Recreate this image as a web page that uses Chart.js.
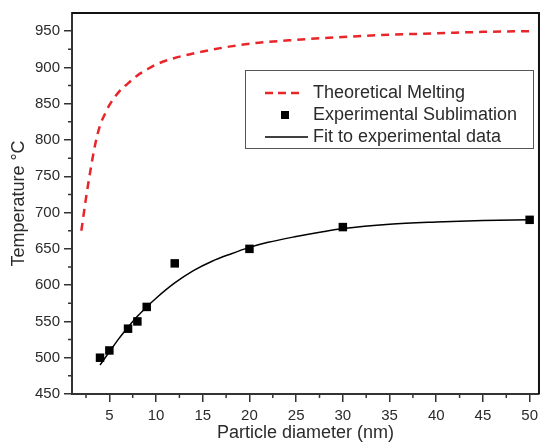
<!DOCTYPE html>
<html lang="en">
<head>
  <meta charset="UTF-8" />
  <title>Temperature vs particle diameter</title>
  <style>
    body {
      margin: 0;
      background: #fff;
    }
    #chart {
      display: block;
    }
  </style>
</head>
<body>
  <canvas id="chart" width="543" height="444"></canvas>

  <script src="https://cdn.jsdelivr.net/npm/chart.js"></script>
  <script>
    // data
    const meltX = [2, 2.5, 3, 3.5, 4, 4.5, 5, 6, 7, 8, 9, 10, 12, 15, 18, 21, 25, 30, 35, 40, 45, 50];
    const meltY = [675, 720, 760, 795, 820, 835, 848, 866, 878, 889, 897, 904, 913, 922, 929, 934, 938, 942, 945, 947, 949, 950];

    const expX = [4, 5, 7, 8, 9, 12, 20, 30, 50];
    const expY = [500, 510, 540, 550, 570, 630, 650, 680, 690];

    const fitX = [4, 5, 6, 7, 8, 9, 10, 12, 14, 16, 18, 20, 22, 25, 28, 30, 35, 40, 45, 50];
    const fitY = [490, 508, 526, 542, 557, 570, 582, 603, 620, 633, 643, 652, 659, 667, 674, 678, 684, 687, 689, 690];

    const xTicks = [5, 10, 15, 20, 25, 30, 35, 40, 45, 50];
    const xMinor = [2.5, 7.5, 12.5, 17.5, 22.5, 27.5, 32.5, 37.5, 42.5, 47.5];
    const yTicks = [450, 500, 550, 600, 650, 700, 750, 800, 850, 900, 950];
    const yMinor = [475, 525, 575, 625, 675, 725, 775, 825, 875, 925];

    const legendItems = ['Theoretical Melting', 'Experimental Sublimation', 'Fit to experimental data'];

    const pts = (xs, ys) => xs.map((x, i) => ({ x: x, y: ys[i] }));

    const FONT = '"Liberation Sans", Arial, sans-serif';
    const TEXT = '#2b2b2b';

    // minor ticks, frame on top/right, and the boxed legend
    const extras = {
      id: 'extras',
      afterDraw(chart) {
        const ctx = chart.ctx;
        const a = chart.chartArea;
        const sx = chart.scales.x, sy = chart.scales.y;
        ctx.save();
        ctx.strokeStyle = '#333';
        ctx.lineWidth = 1.5;
        ctx.beginPath();
        xMinor.forEach(v => {
          const px = sx.getPixelForValue(v);
          ctx.moveTo(px, a.bottom);
          ctx.lineTo(px, a.bottom + 4);
        });
        yMinor.forEach(v => {
          const py = sy.getPixelForValue(v);
          ctx.moveTo(a.left, py);
          ctx.lineTo(a.left - 4, py);
        });
        ctx.stroke();

        ctx.strokeStyle = '#111';
        ctx.lineWidth = 2;
        ctx.beginPath();
        ctx.moveTo(a.left, a.top);
        ctx.lineTo(a.right, a.top);
        ctx.lineTo(a.right, a.bottom);
        ctx.stroke();

        // legend
        const bx = 245, by = 70, bw = 288, bh = 78;
        ctx.fillStyle = '#fff';
        ctx.fillRect(bx, by, bw, bh);
        ctx.strokeStyle = '#555';
        ctx.lineWidth = 1;
        ctx.strokeRect(bx + 0.5, by + 0.5, bw, bh);

        const rows = [93, 115, 137];
        ctx.font = '18px ' + FONT;
        ctx.fillStyle = TEXT;
        ctx.textBaseline = 'middle';
        legendItems.forEach((t, i) => ctx.fillText(t, 313, rows[i]));

        ctx.strokeStyle = '#e8262a';
        ctx.lineWidth = 2.5;
        ctx.setLineDash([8, 5]);
        ctx.beginPath();
        ctx.moveTo(265, rows[0]);
        ctx.lineTo(299, rows[0]);
        ctx.stroke();
        ctx.setLineDash([]);

        ctx.fillStyle = '#000';
        ctx.fillRect(281, rows[1] - 4, 8, 8);

        ctx.strokeStyle = '#000';
        ctx.lineWidth = 1.5;
        ctx.beginPath();
        ctx.moveTo(265, rows[2]);
        ctx.lineTo(308, rows[2]);
        ctx.stroke();
        ctx.restore();
      }
    };

    new Chart(document.getElementById('chart'), {
      type: 'scatter',
      data: {
        datasets: [
          {
            label: legendItems[0],
            data: pts(meltX, meltY),
            showLine: true,
            borderColor: '#e8262a',
            borderWidth: 2.5,
            borderDash: [8, 6],
            pointRadius: 0,
            cubicInterpolationMode: 'monotone'
          },
          {
            label: legendItems[2],
            data: pts(fitX, fitY),
            showLine: true,
            borderColor: '#000',
            borderWidth: 1.5,
            pointRadius: 0,
            cubicInterpolationMode: 'monotone'
          },
          {
            label: legendItems[1],
            data: pts(expX, expY),
            showLine: false,
            pointStyle: 'rect',
            pointRadius: 6,
            pointBackgroundColor: '#000',
            pointBorderColor: '#000',
            pointBorderWidth: 0
          }
        ]
      },
      options: {
        responsive: false,
        animation: false,
        layout: { autoPadding: false, padding: { top: 13, right: 1, left: 0, bottom: 0 } },
        plugins: {
          legend: { display: false },
          tooltip: { enabled: false }
        },
        scales: {
          x: {
            type: 'linear',
            min: 1,
            max: 51,
            afterBuildTicks: s => { s.ticks = xTicks.map(v => ({ value: v })); },
            afterFit: s => { s.height = 50; },
            border: { color: '#333', width: 2 },
            grid: { drawOnChartArea: false, color: '#333', lineWidth: 1.5, tickLength: 8 },
            ticks: { color: TEXT, font: { family: FONT, size: 15 }, padding: 5, maxRotation: 0 },
            title: {
              display: true,
              text: 'Particle diameter (nm)',
              color: TEXT,
              font: { family: FONT, size: 18 },
              padding: { top: 0, bottom: 0 }
            }
          },
          y: {
            min: 450,
            max: 975,
            afterBuildTicks: s => { s.ticks = yTicks.map(v => ({ value: v })); },
            afterFit: s => { s.width = 72; },
            border: { color: '#333', width: 2 },
            grid: { drawOnChartArea: false, color: '#333', lineWidth: 1.5, tickLength: 8 },
            ticks: { color: TEXT, font: { family: FONT, size: 15 }, padding: 4 },
            title: {
              display: true,
              text: 'Temperature °C',
              color: TEXT,
              font: { family: FONT, size: 18 },
              padding: { top: 8, bottom: 0 }
            }
          }
        }
      },
      plugins: [extras]
    });
  </script>
</body>
</html>
